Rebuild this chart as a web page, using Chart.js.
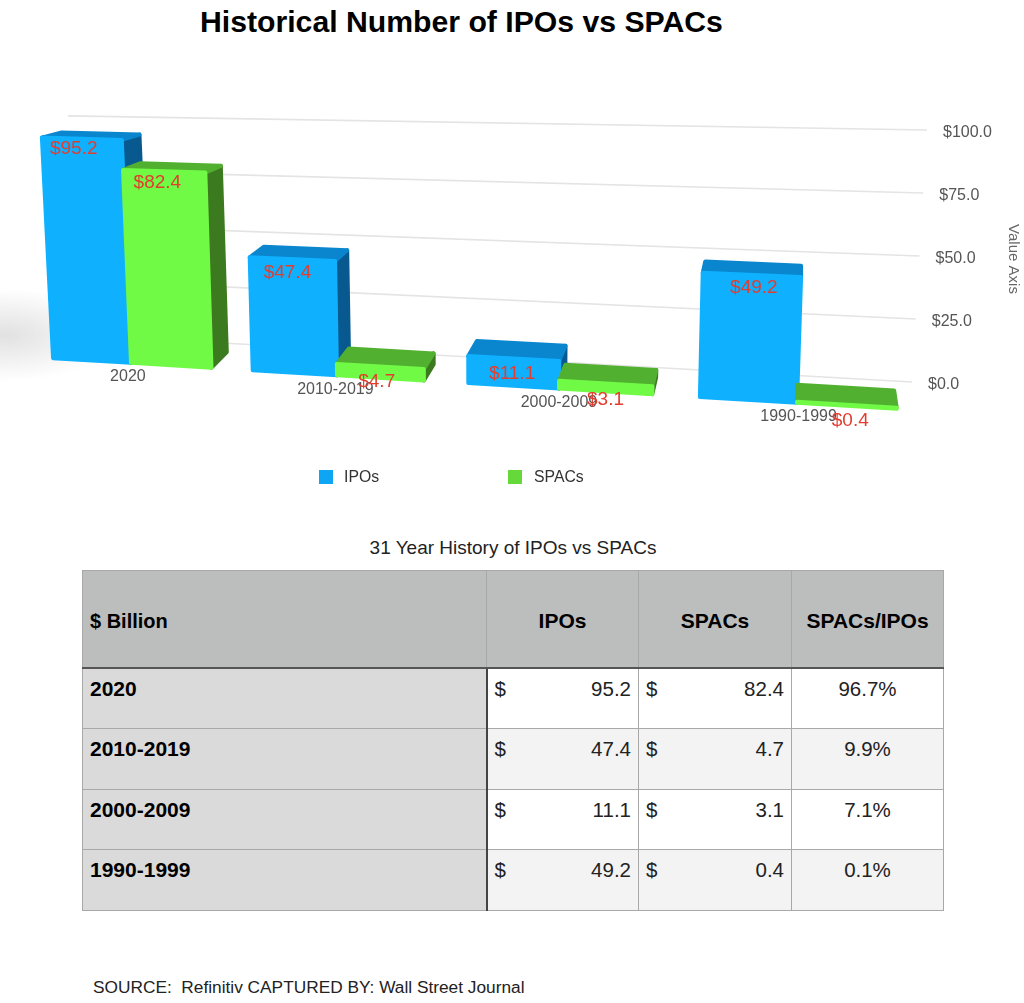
<!DOCTYPE html>
<html>
<head>
<meta charset="utf-8">
<title>Historical Number of IPOs vs SPACs</title>
<script src="https://cdn.jsdelivr.net/npm/chart.js@4"></script>
<style>
  html, body { margin: 0; padding: 0; background: #fff; }
  body { position: relative; width: 1024px; height: 1003px; overflow: hidden; font-family: "Liberation Sans", Arial, sans-serif; color: #000; }
  #chartBox { position: absolute; left: 0; top: 0; width: 1024px; height: 500px; }
  h1 { position: absolute; left: 200px; top: 4px; margin: 0; font-size: 30.2px; line-height: 36px; font-weight: bold; white-space: nowrap; }
  #caption { position: absolute; left: 0; width: 1026px; top: 537px; text-align: center; font-size: 19px; line-height: 22px; color: #222; }
  #source { position: absolute; left: 93px; top: 977px; font-size: 17.3px; line-height: 20px; white-space: pre; color: #222; }
  table { position: absolute; left: 82px; top: 570px; width: 861px; height: 341px; border-collapse: collapse; table-layout: fixed; font-size: 20.5px; }
  td, th { border: 1px solid #a8a8a8; padding: 0 7px; }
  th { background: #bcbebd; height: 97px; font-weight: bold; font-size: 21px; text-align: center; border-bottom: 2px solid #555; padding-top: 4px; box-sizing: border-box; }
  th:first-child { text-align: left; font-size: 20px; }
  td { height: 60px; vertical-align: top; padding-top: 8px; box-sizing: border-box; background: #fff; color: #222; line-height: 24px; }
  tr:nth-child(odd) td { background: #f3f3f3; }
  td.cat { background: #dadada !important; font-weight: bold; color: #000; border-right: 2px solid #444; font-size: 21px; }
  td.pct { text-align: center; }
  .money { display: flex; justify-content: space-between; }
</style>
</head>
<body>
<h1>Historical Number of IPOs vs SPACs</h1>
<div id="chartBox"><canvas id="ipoChart"></canvas></div>
<div id="caption">31 Year History of IPOs vs SPACs</div>
<table id="histTable"></table>
<div id="source">SOURCE:  Refinitiv CAPTURED BY: Wall Street Journal</div>

<script>
// data
const periods = ['2020', '2010-2019', '2000-2009', '1990-1999'];
const ipoValues = [95.2, 47.4, 11.1, 49.2];
const spacValues = [82.4, 4.7, 3.1, 0.4];
const ratioLabels = ['96.7%', '9.9%', '7.1%', '0.1%'];
const tableHeaders = ['$ Billion', 'IPOs', 'SPACs', 'SPACs/IPOs'];
const axisTicks = [0, 25, 50, 75, 100];

const FONT = '"Liberation Sans", Arial, sans-serif';

// 1. table under the chart
function buildTable() {
    const cols = [404, 152, 153, 152];
    let html = '<colgroup>' + cols.map(w => `<col style="width:${w}px">`).join('') + '</colgroup>';
    html += '<tr>' + tableHeaders.map(h => `<th>${h}</th>`).join('') + '</tr>';
    periods.forEach((p, i) => {
        html += `<tr><td class="cat">${p}</td>` +
            `<td><div class="money"><span>$</span><span>${ipoValues[i].toFixed(1)}</span></div></td>` +
            `<td><div class="money"><span>$</span><span>${spacValues[i].toFixed(1)}</span></div></td>` +
            `<td class="pct">${ratioLabels[i]}</td></tr>`;
    });
    document.getElementById('histTable').innerHTML = html;
}

// 2. fake 3D: flat chart pixels -> picture pixels
function warpX(cx) {
    return cx - 1.62e-4 * (cx - 131) * (797 - cx);
}
function project(chart, cx, cy) {
    const h = chart.chartArea.bottom - cy;
    const b = warpX(cx);
    const v = h / 2.4;
    return {
        x: b + (b - 488) * 2.7e-4 * v,
        y: 355 + 0.06 * b - v * (2.3 + b * 0.00032)
    };
}
function backOf(p) {
    return { x: p.x + 0.026 * (800 - p.x), y: p.y - (p.y * 0.045 - 1) };
}
function face(ctx, pts, color) {
    ctx.beginPath();
    pts.forEach((p, i) => i ? ctx.lineTo(p.x, p.y) : ctx.moveTo(p.x, p.y));
    ctx.closePath();
    ctx.fillStyle = color;
    ctx.strokeStyle = color;
    ctx.lineWidth = 4;
    ctx.lineJoin = 'round';
    ctx.fill();
    ctx.stroke();
}

const box3d = {
    id: 'box3d',
    beforeDatasetsDraw(chart) {
        const ctx = chart.ctx;
        const y = chart.scales.y;
        ctx.save();
        // soft floor shadow on the left
        ctx.save();
        ctx.translate(5, 335);
        ctx.scale(1, 0.42);
        const g = ctx.createRadialGradient(0, 0, 0, 0, 0, 110);
        g.addColorStop(0, 'rgba(195,195,195,0.5)');
        g.addColorStop(1, 'rgba(195,195,195,0)');
        ctx.fillStyle = g;
        ctx.fillRect(-110, -110, 220, 220);
        ctx.restore();

        // back wall grid lines and value ticks
        y.ticks.forEach(t => {
            const v = (chart.chartArea.bottom - y.getPixelForValue(t.value)) / 2.4;
            const xr = 912 + 0.15 * v;
            const yr = 382 - 2.52 * v;
            const slope = 0.0565 - 0.0004 * v;
            ctx.beginPath();
            ctx.moveTo(68, yr - slope * (xr - 68));
            ctx.lineTo(xr, yr);
            ctx.strokeStyle = '#e4e4e4';
            ctx.lineWidth = 1.6;
            ctx.stroke();
            ctx.fillStyle = '#555';
            ctx.font = '16px ' + FONT;
            ctx.textAlign = 'left';
            ctx.textBaseline = 'middle';
            ctx.fillText('$' + t.value.toFixed(1), xr + 16, yr + 3);
        });
        ctx.restore();
    },
    // bars are painted in afterDatasetsDraw, SPACs have to cover the IPOs side face
    beforeDatasetDraw() {
        return false;
    },
    afterDatasetsDraw(chart) {
        const ctx = chart.ctx;
        const x = chart.scales.x;
        ctx.save();
        chart.data.datasets.forEach((ds, d) => {
            chart.getDatasetMeta(d).data.forEach(bar => {
                const half = bar.width / 2;
                const tl = project(chart, bar.x - half, bar.y);
                const tr = project(chart, bar.x + half, bar.y);
                const bl = project(chart, bar.x - half, bar.base);
                const br = project(chart, bar.x + half, bar.base);
                const backTl = backOf(tl), backTr = backOf(tr), backBr = backOf(br);
                if (backTr.x > tr.x + 1) face(ctx, [tr, backTr, backBr, br], ds.sideColor);
                face(ctx, [tl, backTl, backTr, tr], ds.topColor);
                face(ctx, [tl, tr, br, bl], ds.backgroundColor);
            });
        });
        // category labels sit under the front edge
        ctx.textAlign = 'center';
        ctx.textBaseline = 'middle';
        ctx.font = '16px ' + FONT;
        ctx.fillStyle = '#555';
        periods.forEach((p, i) => {
            const f = project(chart, x.getPixelForValue(i), chart.chartArea.bottom);
            ctx.fillText(p, f.x + f.x * 0.007 - 4, f.y + 14);
        });
        // value labels
        ctx.font = '19px ' + FONT;
        ctx.fillStyle = '#e23d2e';
        chart.data.datasets.forEach((ds, d) => {
            chart.getDatasetMeta(d).data.forEach((bar, i) => {
                const top = project(chart, bar.x, bar.y);
                ctx.fillText('$' + ds.data[i].toFixed(1), top.x + top.x * 0.015 - 9, top.y + 16 - ds.data[i] * 0.06);
            });
        });
        // legend
        const legendX = [319, 508];
        ctx.textAlign = 'left';
        ctx.font = '15.8px ' + FONT;
        chart.data.datasets.forEach((ds, d) => {
            ctx.fillStyle = ds.legendColor;
            ctx.fillRect(legendX[d], 470, 14, 14);
            ctx.fillStyle = '#333';
            ctx.fillText(ds.label, legendX[d] + 25 + d, 478);
        });
        // axis name
        ctx.translate(1013, 259);
        ctx.rotate(Math.PI / 2);
        ctx.textAlign = 'center';
        ctx.font = '15px ' + FONT;
        ctx.fillStyle = '#666';
        ctx.fillText('Value Axis', 0, 0);
        ctx.restore();
    }
};

document.addEventListener('DOMContentLoaded', () => {
    buildTable();

    new Chart(document.getElementById('ipoChart'), {
        type: 'bar',
        data: {
            labels: periods,
            datasets: [
                { label: 'IPOs', data: ipoValues, backgroundColor: '#0fb1ff', sideColor: '#07598f', topColor: '#0a86cf', legendColor: '#0fa5f5' },
                { label: 'SPACs', data: spacValues, backgroundColor: '#70fa45', sideColor: '#3c7a1f', topColor: '#52b031', legendColor: '#66d93a' }
            ]
        },
        options: {
            responsive: true,
            maintainAspectRatio: false,
            animation: false,
            categoryPercentage: 0.8,
            barPercentage: 1,
            layout: { padding: { left: 20, right: 116, top: 100, bottom: 160 } },
            scales: {
                x: { display: false },
                y: {
                    display: false,
                    min: 0,
                    max: 100,
                    afterBuildTicks: scale => { scale.ticks = axisTicks.map(v => ({ value: v })); }
                }
            },
            plugins: { legend: { display: false }, tooltip: { enabled: false } }
        },
        plugins: [box3d]
    });
});
</script>
</body>
</html>
